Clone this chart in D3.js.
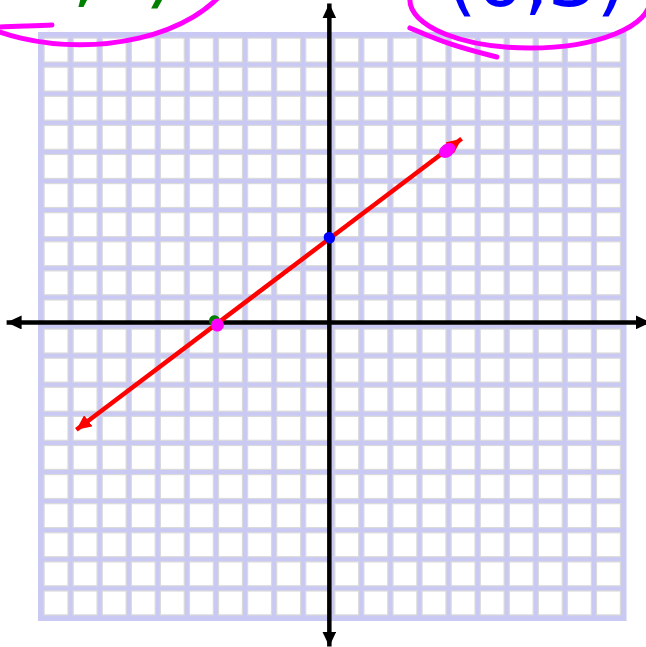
<!DOCTYPE html>
<html>
<head>
<meta charset="utf-8">
<script src="https://cdn.jsdelivr.net/npm/d3@7"></script>
<style>
  html, body { margin: 0; padding: 0; background: #fff; }
  svg { display: block; }
</style>
</head>
<body>
<div id="graph"></div>
<script>
const width = 646;
const height = 647;

// grid extent, in graph units
const gridMin = -10;
const gridMax = 10;

// hand-drawn axes sit a little off the grid line through the origin
const axisOrigin = [-0.1, 0.14];
const xAxisExtent = [-11.2, 10.95];
const yAxisExtent = [-11.0, 11.1];

// the red line y = 3/4 x + 3, end points
const lineX = [-8.8, 4.45];
const lineY = [-3.55, 6.45];

// plotted points
const pointX = [-4.05, -3.95, -0.1, 3.95];
const pointY = [0.2, 0.05, 3.05, 6.05];
const pointColor = ["#008000", "#ff00ff", "#0000ff", "#ff00ff"];
const pointRx = [5.5, 6.5, 5.5, 9];
const pointRy = [5.5, 6.5, 6, 6.5];

// handwritten labels at the top
const labelText = ["(-4,0)", "(0,3)"];
const labelX = [-9.0, 3.9];
const labelY = [11.3, 11.0];
const labelColor = ["#008000", "#0000ff"];

let x = d3.scaleLinear()
    .domain([gridMin, gridMax])
    .range([41.5, 623]);

let y = d3.scaleLinear()
    .domain([gridMin, gridMax])
    .range([617.5, 35.5]);

let svg = d3.select("#graph")
    .append("svg")
    .attr("width", width)
    .attr("height", height);

let defs = svg.append("defs");

function arrowMarker(id, color, len, half) {
    defs.append("marker")
        .attr("id", id)
        .attr("markerUnits", "userSpaceOnUse")
        .attr("viewBox", `0 ${-half} ${len} ${half * 2}`)
        .attr("refX", len)
        .attr("refY", 0)
        .attr("markerWidth", len)
        .attr("markerHeight", half * 2)
        .attr("orient", "auto-start-reverse")
        .append("path")
        .attr("d", `M0,${-half}L${len},0L0,${half}Z`)
        .attr("fill", color);
}
arrowMarker("arrowBlack", "#000", 15, 7);
arrowMarker("arrowRed", "#ff0000", 15, 7);

// grid paper: lavender sheet with white cells
let cells = d3.range(gridMin, gridMax);
let grid = svg.append("g");

grid.append("rect")
    .attr("x", x(gridMin) - 3.5)
    .attr("y", y(gridMax) - 3.5)
    .attr("width", x(gridMax) - x(gridMin) + 7)
    .attr("height", y(gridMin) - y(gridMax) + 7)
    .attr("fill", "#c9c9f3");

grid.selectAll("rect.cell")
    .data(d3.cross(cells, cells))
    .enter()
    .append("rect")
    .attr("class", "cell")
    .attr("x", d => x(d[0]) + 2.6)
    .attr("y", d => y(d[1] + 1) + 2.6)
    .attr("width", d => x(d[0] + 1) - x(d[0]) - 5.2)
    .attr("height", d => y(d[1]) - y(d[1] + 1) - 5.2)
    .attr("fill", "#fff")
    .attr("stroke", "#dadada")
    .attr("stroke-width", 1.2);

// axes
let axes = svg.append("g")
    .attr("stroke", "#000")
    .attr("stroke-width", 4.5);

axes.append("line")
    .attr("x1", x(xAxisExtent[0]))
    .attr("x2", x(xAxisExtent[1]))
    .attr("y1", y(axisOrigin[1]))
    .attr("y2", y(axisOrigin[1]))
    .attr("marker-start", "url(#arrowBlack)")
    .attr("marker-end", "url(#arrowBlack)");

axes.append("line")
    .attr("x1", x(axisOrigin[0]))
    .attr("x2", x(axisOrigin[0]))
    .attr("y1", y(yAxisExtent[0]))
    .attr("y2", y(yAxisExtent[1]))
    .attr("marker-start", "url(#arrowBlack)")
    .attr("marker-end", "url(#arrowBlack)");

// the red line with arrows at both ends
let lineData = lineX.map((d, i) => [d, lineY[i]]);
svg.append("path")
    .datum(lineData)
    .attr("d", d3.line().x(d => x(d[0])).y(d => y(d[1])))
    .attr("fill", "none")
    .attr("stroke", "#ff0000")
    .attr("stroke-width", 4.5)
    .attr("marker-start", "url(#arrowRed)")
    .attr("marker-end", "url(#arrowRed)");

// points
let angle = -Math.atan2(y(lineY[0]) - y(lineY[1]), x(lineX[1]) - x(lineX[0])) * 180 / Math.PI;
svg.selectAll("ellipse.pt")
    .data(pointX.map((d, i) => i))
    .enter()
    .append("ellipse")
    .attr("class", "pt")
    .attr("cx", i => x(pointX[i]))
    .attr("cy", i => y(pointY[i]))
    .attr("rx", i => pointRx[i])
    .attr("ry", i => pointRy[i])
    .attr("transform", i => `rotate(${angle}, ${x(pointX[i])}, ${y(pointY[i])})`)
    .attr("fill", i => pointColor[i]);

// handwritten labels, mostly cut off at the top
svg.selectAll("text.label")
    .data(labelText)
    .enter()
    .append("text")
    .attr("class", "label")
    .attr("x", (d, i) => x(labelX[i]))
    .attr("y", (d, i) => y(labelY[i]))
    .attr("text-anchor", (d, i) => i == 0 ? "middle" : "start")
    .attr("fill", (d, i) => labelColor[i])
    .style("font-family", "DejaVu Sans")
    .style("font-size", "80px")
    .style("letter-spacing", "-2px")
    .text(d => d);

// magenta loops drawn round the labels
let loops = svg.append("g")
    .attr("fill", "none")
    .attr("stroke", "#ff00ff")
    .attr("stroke-width", 5)
    .attr("stroke-linecap", "round");

const loopX = [-8.68, 6.8];
const loopY = [12.94, 11.22];
const loopRx = [5.5, 4.13];
const loopRy = [3.26, 1.65];

loops.selectAll("ellipse")
    .data(loopX)
    .enter()
    .append("ellipse")
    .attr("cx", d => x(d))
    .attr("cy", (d, i) => y(loopY[i]))
    .attr("rx", (d, i) => x(loopRx[i]) - x(0))
    .attr("ry", (d, i) => y(0) - y(loopRy[i]));

const tails = [
    [[-11.43, 10.29], [-10.5, 10.33], [-9.64, 10.36]],
    [[2.67, 10.26], [4.05, 9.67], [5.66, 9.26]]
];
loops.selectAll("path")
    .data(tails)
    .enter()
    .append("path")
    .attr("d", d3.line().curve(d3.curveBasis).x(d => x(d[0])).y(d => y(d[1])));
</script>
</body>
</html>
